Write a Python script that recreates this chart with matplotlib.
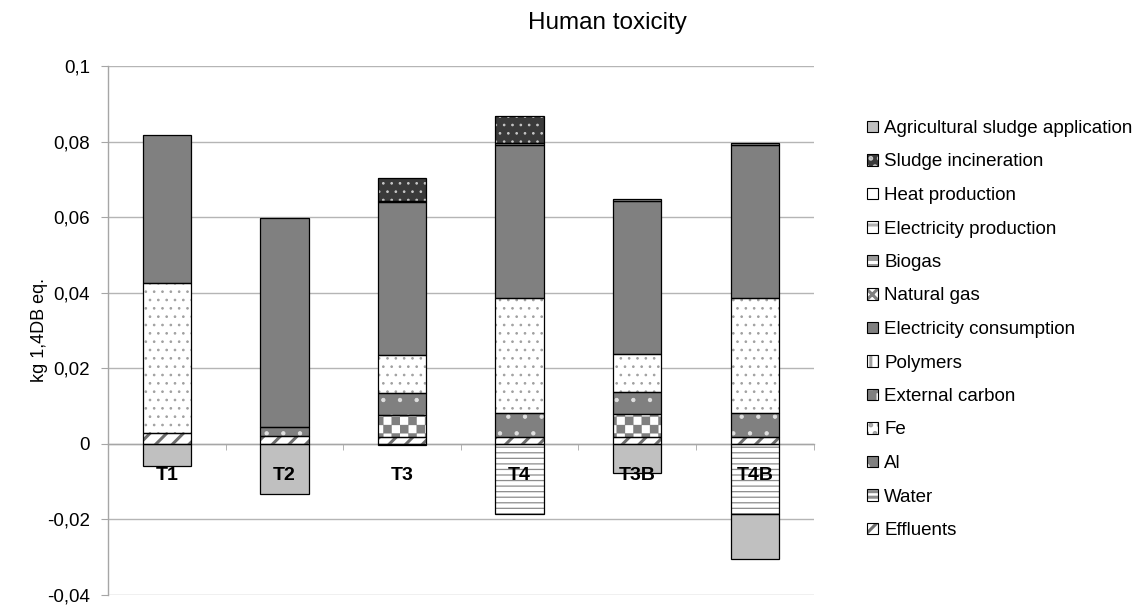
import numpy as np
import matplotlib
matplotlib.use('Agg')
import matplotlib.pyplot as plt
import matplotlib.hatch as mhatch
from matplotlib.path import Path
from matplotlib.patches import Patch
from matplotlib.legend_handler import HandlerTuple

# ---------------- data ----------------
categories = ['T1', 'T2', 'T3', 'T4', 'T3B', 'T4B']
effluents = [0.0030, 0.0020, 0.0017, 0.0019, 0.0018, 0.0019]
water = [0.0, 0.0, -0.0003, -0.0185, 0.0, -0.0185]
external_carbon = [0.0, 0.0, 0.0059, 0.0, 0.0062, 0.0]
al = [0.0, 0.0025, 0.0059, 0.0062, 0.0058, 0.0062]
fe = [0.0396, 0.0, 0.0100, 0.0304, 0.0099, 0.0304]
polymers = [0.0, 0.0, 0.0, 0.0, 0.0, 0.0]
electricity_consumption = [0.0392, 0.0553, 0.0406, 0.0407, 0.0405, 0.0405]
natural_gas = [0.0, 0.0, 0.0, 0.0, 0.0, 0.0]
biogas = [0.0, 0.0, 0.0003, 0.0003, 0.0005, 0.0005]
electricity_production = [0.0, 0.0, 0.0, 0.0, 0.0, 0.0]
heat_production = [0.0, 0.0, 0.0, 0.0, 0.0, 0.0]
sludge_incineration = [0.0, 0.0, 0.0060, 0.0072, 0.0, 0.0]
agricultural_sludge_application = [-0.0059, -0.0133, 0.0, 0.0, -0.0078, -0.0120]

ytick_values = [-0.04, -0.02, 0.0, 0.02, 0.04, 0.06, 0.08, 0.1]
ytick_labels = ['-0,04', '-0,02', '0', '0,02', '0,04', '0,06', '0,08', '0,1']

# stacking order (bottom -> top) and legend labels
series = [
    ('Effluents', effluents),
    ('Water', water),
    ('External carbon', external_carbon),
    ('Al', al),
    ('Fe', fe),
    ('Polymers', polymers),
    ('Electricity consumption', electricity_consumption),
    ('Natural gas', natural_gas),
    ('Biogas', biogas),
    ('Electricity production', electricity_production),
    ('Heat production', heat_production),
    ('Sludge incineration', sludge_incineration),
    ('Agricultural sludge application', agricultural_sludge_application),
]
legend_order = ['Agricultural sludge application', 'Sludge incineration', 'Heat production',
                'Electricity production', 'Biogas', 'Natural gas', 'Electricity consumption',
                'Polymers', 'External carbon', 'Fe', 'Al', 'Water', 'Effluents']


# ---------------- custom checker hatch (uses 'O') ----------------
class _Checker(mhatch.HatchPatternBase):
    def __init__(self, hatch, density):
        self.n = hatch.count('O') * density
        self.num_vertices = self.n * self.n * 2 * 5

    def set_vertices_and_codes(self, vertices, codes):
        n = self.n
        s = 1.0 / n
        h = s / 2
        sq = np.array([[0, 0], [h, 0], [h, h], [0, h], [0, 0]], float)
        parts = []
        for i in range(n):
            for j in range(n):
                parts.append(sq + [i * s, j * s])
                parts.append(sq + [i * s + h, j * s + h])
        vertices[:] = np.concatenate(parts)
        codes[:] = np.tile([Path.MOVETO, Path.LINETO, Path.LINETO, Path.LINETO,
                            Path.CLOSEPOLY], n * n * 2)


mhatch._hatch_types[mhatch._hatch_types.index(mhatch.LargeCircles)] = _Checker

# style: face, hatch, hatch colour, hatch linewidth
styles = {
    'Effluents': ('white', '//', '#6e6e6e', 2.2),
    'Water': ('white', '---', '#8c8c8c', 0.9),
    'External carbon': ('white', 'O', '#808080', 0.2),
    'Al': ('#808080', '.', '#e0e0e0', 0.7),
    'Fe': ('white', '..', '#a0a0a0', 0.7),
    'Polymers': ('white', '||', '#a0a0a0', 0.8),
    'Electricity consumption': ('#808080', None, '#808080', 0.5),
    'Natural gas': ('white', 'xxx', '#808080', 0.8),
    'Biogas': ('#9a9a9a', '--', 'white', 0.8),
    'Electricity production': ('white', '-', '#b0b0b0', 0.8),
    'Heat production': ('white', None, 'white', 0.5),
    'Sludge incineration': ('#3a3a3a', '..', '#c8c8c8', 0.7),
    'Agricultural sludge application': ('#c0c0c0', None, '#c0c0c0', 0.5),
}

plt.rcParams['font.family'] = ['Liberation Sans', 'DejaVu Sans']

fig = plt.figure(figsize=(11.37, 6.10), dpi=100)
W, H = 1137, 610
ax_left, ax_right, ax_top, ax_bottom = 108, 813.6, 66, 595
ax = fig.add_axes([ax_left / W, 1 - ax_bottom / H, (ax_right - ax_left) / W, (ax_bottom - ax_top) / H])

x = np.arange(len(categories))
bar_w = 0.41
pos_bottom = np.zeros(len(categories))
neg_bottom = np.zeros(len(categories))
for name, vals in series:
    v = np.asarray(vals, float)
    m = v != 0
    bottom = np.where(v >= 0, pos_bottom, neg_bottom)
    face, hatch, hc, hlw = styles[name]
    if m.any():
        plt.rcParams['hatch.linewidth'] = hlw
        ax.bar(x[m], v[m], bar_w, bottom=bottom[m], color=face, hatch=hatch,
               edgecolor=hc, linewidth=0, zorder=2)
        ax.bar(x[m], v[m], bar_w, bottom=bottom[m], fill=False,
               edgecolor='black', linewidth=0.9, zorder=3)
    pos_bottom += np.where(v > 0, v, 0)
    neg_bottom += np.where(v < 0, v, 0)

ax.set_xlim(-0.5, len(categories) - 0.5)
ax.set_ylim(-0.04, 0.1)
ax.set_yticks(ytick_values)
ax.set_yticklabels(ytick_labels, fontsize=13.5)
ax.yaxis.grid(True, color='#b5b5b5', linewidth=1.0)
ax.set_axisbelow(True)
for s in ('top', 'right'):
    ax.spines[s].set_visible(False)
ax.spines['bottom'].set_position(('data', 0))
ax.spines['bottom'].set_color('#a6a6a6')
ax.spines['left'].set_color('#a6a6a6')
ax.spines['bottom'].set_linewidth(1.0)
ax.spines['left'].set_linewidth(1.0)
ax.set_xticks([])
ax.set_xticks(np.arange(-0.5, len(categories), 1.0), minor=True)
ax.tick_params(axis='x', which='minor', length=4.5, color='#a6a6a6', direction='out')
ax.tick_params(axis='y', length=5, color='#a6a6a6', pad=8)

for xi, cat in zip(x, categories):
    ax.annotate(cat, (xi, 0), xytext=(0, -16.5), textcoords='offset points',
                ha='center', va='top', fontsize=14, fontweight='bold', zorder=6)

fig.text(607 / W, 1 - 29 / H, 'Human toxicity', ha='center', va='baseline', fontsize=17.5)
fig.text(40 / W, 1 - 330 / H, 'kg 1,4DB eq.', rotation=90, ha='center', va='center', fontsize=13)

# legend
handles = []
for name in legend_order:
    face, hatch, hc, hlw = styles[name]
    plt.rcParams['hatch.linewidth'] = hlw
    p1 = Patch(facecolor=face, hatch=hatch, edgecolor=hc, linewidth=0)
    p2 = Patch(facecolor='none', edgecolor='black', linewidth=0.8)
    handles.append((p1, p2))
fig.legend(handles, legend_order, loc='upper left', bbox_to_anchor=(867 / W, 1 - 120 / H),
           frameon=False, fontsize=13.5, handlelength=0.56, handleheight=0.56,
           handletextpad=0.35, labelspacing=0.88, borderpad=0, borderaxespad=0,
           handler_map={tuple: HandlerTuple(ndivide=1)})

fig.savefig('out.png', dpi=100)
